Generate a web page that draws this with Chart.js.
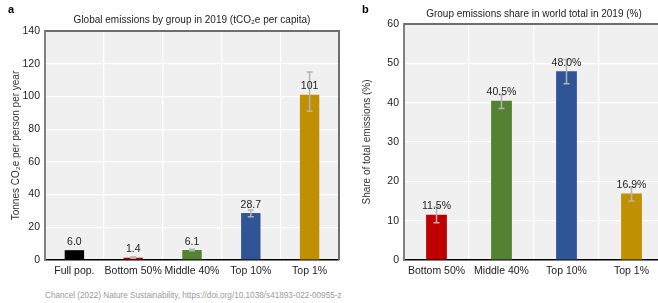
<!DOCTYPE html>
<html>
<head>
<meta charset="utf-8">
<script src="https://cdn.jsdelivr.net/npm/chart.js@4"></script>
<style>
  html, body { margin: 0; padding: 0; background: #fff; overflow: hidden; width: 658px; height: 303px; }
  #wrap { position: relative; width: 658px; height: 303px; overflow: hidden; }
  #leftChart { position: absolute; left: 0; top: 0; }
  #rightChart { position: absolute; left: 350px; top: 0; }
  #source { position: absolute; left: 45px; top: 291px; font: 8.2px "Liberation Sans", Arial, sans-serif; color: #9a9a9a; white-space: nowrap; }
</style>
</head>
<body>
<div id="wrap">
  <canvas id="leftChart" width="345" height="285"></canvas>
  <canvas id="rightChart" width="320" height="285"></canvas>
  <div id="source">Chancel (2022) Nature Sustainability, https://doi.org/10.1038/s41893-022-00955-z</div>
</div>
<script>
// panel a
const leftCats = ["Full pop.", "Bottom 50%", "Middle 40%", "Top 10%", "Top 1%"];
const leftValues = [6.0, 1.4, 6.1, 28.7, 101];
const leftLabels = ["6.0", "1.4", "6.1", "28.7", "101"];
const leftErrLow = [null, 1.0, 5.6, 26.5, 91];
const leftErrHigh = [null, 1.8, 6.6, 30.5, 115];
const leftColors = ["#000000", "#c00000", "#548235", "#2f5597", "#bf9000"];

// panel b
const rightCats = ["Bottom 50%", "Middle 40%", "Top 10%", "Top 1%"];
const rightValues = [11.5, 40.5, 48.0, 16.9];
const rightLabels = ["11.5%", "40.5%", "48.0%", "16.9%"];
const rightErrLow = [9.5, 38.5, 44.8, 15.0];
const rightErrHigh = [13.5, 42.0, 51.0, 18.6];
const rightColors = ["#c00000", "#548235", "#2f5597", "#bf9000"];

const FONT = "'Liberation Sans', Arial, sans-serif";
const FS = 10;

// background, error bars, value labels, title and letter
const panelPlugin = {
  id: "panel",
  beforeDraw(chart, args, opts) {
    const a = chart.chartArea;
    const ctx = chart.ctx;
    ctx.save();
    ctx.fillStyle = "#f0f0f0";
    ctx.fillRect(a.left, a.top, a.right - a.left, a.bottom - a.top);
    ctx.restore();
  },
  afterDatasetsDraw(chart, args, opts) {
    const ctx = chart.ctx;
    const y = chart.scales.y;
    const meta = chart.getDatasetMeta(0);
    ctx.save();
    ctx.strokeStyle = "#b4b4b4";
    ctx.lineWidth = 1.5;
    meta.data.forEach((bar, i) => {
      if (opts.low[i] == null) return;
      const y1 = y.getPixelForValue(opts.low[i]);
      const y2 = y.getPixelForValue(opts.high[i]);
      ctx.beginPath();
      ctx.moveTo(bar.x, y1); ctx.lineTo(bar.x, y2);
      ctx.moveTo(bar.x - 3, y1); ctx.lineTo(bar.x + 3, y1);
      ctx.moveTo(bar.x - 3, y2); ctx.lineTo(bar.x + 3, y2);
      ctx.stroke();
    });
    ctx.fillStyle = "#222";
    ctx.font = (FS + 0.5) + "px " + FONT;
    ctx.textAlign = "center";
    ctx.textBaseline = "bottom";
    meta.data.forEach((bar, i) => {
      ctx.fillText(opts.labels[i], bar.x, bar.y - 3);
    });
    ctx.restore();
  },
  afterDraw(chart, args, opts) {
    const a = chart.chartArea;
    const ctx = chart.ctx;
    ctx.save();
    // top and right frame
    ctx.strokeStyle = "#6e6e6e";
    ctx.lineWidth = 2;
    ctx.beginPath();
    ctx.moveTo(a.left, a.top);
    ctx.lineTo(a.right, a.top);
    ctx.lineTo(a.right, a.bottom);
    ctx.stroke();
    // title
    ctx.fillStyle = "#222";
    ctx.font = FS + "px " + FONT;
    ctx.textAlign = "center";
    ctx.textBaseline = "middle";
    ctx.fillText(opts.title, (a.left + a.right) / 2, opts.titleY);
    // panel letter
    ctx.font = "bold 11px " + FONT;
    ctx.textAlign = "left";
    ctx.fillStyle = "#000";
    ctx.fillText(opts.letter, opts.letterX, 10);
    ctx.restore();
  }
};

function makePanel(id, cats, values, colors, cfg) {
  return new Chart(document.getElementById(id), {
    type: "bar",
    data: {
      labels: cats,
      datasets: [{
        data: values,
        backgroundColor: colors,
        barPercentage: cfg.barPct,
        categoryPercentage: 1
      }]
    },
    plugins: [panelPlugin],
    options: {
      responsive: false,
      animation: false,
      devicePixelRatio: 1,
      layout: { padding: cfg.padding },
      plugins: {
        legend: { display: false },
        tooltip: { enabled: false },
        panel: cfg.panel
      },
      scales: {
        x: {
          grid: { color: "#ffffff", lineWidth: 1.2, drawTicks: false, offset: true },
          border: { color: "#000000", width: 1.5 },
          ticks: { color: "#222", font: { family: FONT, size: FS + 0.5 }, padding: 5, maxRotation: 0, autoSkip: false },
          afterFit: s => { s.height = cfg.xHeight; }
        },
        y: {
          min: 0,
          max: cfg.yMax,
          grid: { color: "#ffffff", lineWidth: 1.2, drawTicks: false },
          border: { color: "#808080", width: 2 },
          ticks: { stepSize: cfg.step, color: "#222", font: { family: FONT, size: FS + 0.5 }, padding: 5 },
          title: { display: true, text: cfg.yTitle, color: "#333", font: { family: FONT, size: FS }, padding: 0 },
          afterFit: s => { s.width = cfg.yWidth; }
        }
      }
    }
  });
}

makePanel("leftChart", leftCats, leftValues, leftColors, {
  barPct: 0.33,
  padding: { left: 10, right: 6, top: 31, bottom: 0 },
  xHeight: 25,
  yWidth: 35,
  yMax: 140,
  step: 20,
  yTitle: "Tonnes CO₂e per person per year",
  panel: {
    title: "Global emissions by group in 2019 (tCO₂e per capita)",
    titleY: 20,
    letter: "a",
    letterX: 8,
    labels: leftLabels,
    low: leftErrLow,
    high: leftErrHigh
  }
});

makePanel("rightChart", rightCats, rightValues, rightColors, {
  barPct: 0.32,
  padding: { left: 11, right: 6, top: 24, bottom: 0 },
  xHeight: 25,
  yWidth: 43,
  yMax: 60,
  step: 10,
  yTitle: "Share of total emissions (%)",
  panel: {
    title: "Group emissions share in world total in 2019 (%)",
    titleY: 14,
    letter: "b",
    letterX: 12,
    labels: rightLabels,
    low: rightErrLow,
    high: rightErrHigh
  }
});
</script>
</body>
</html>
